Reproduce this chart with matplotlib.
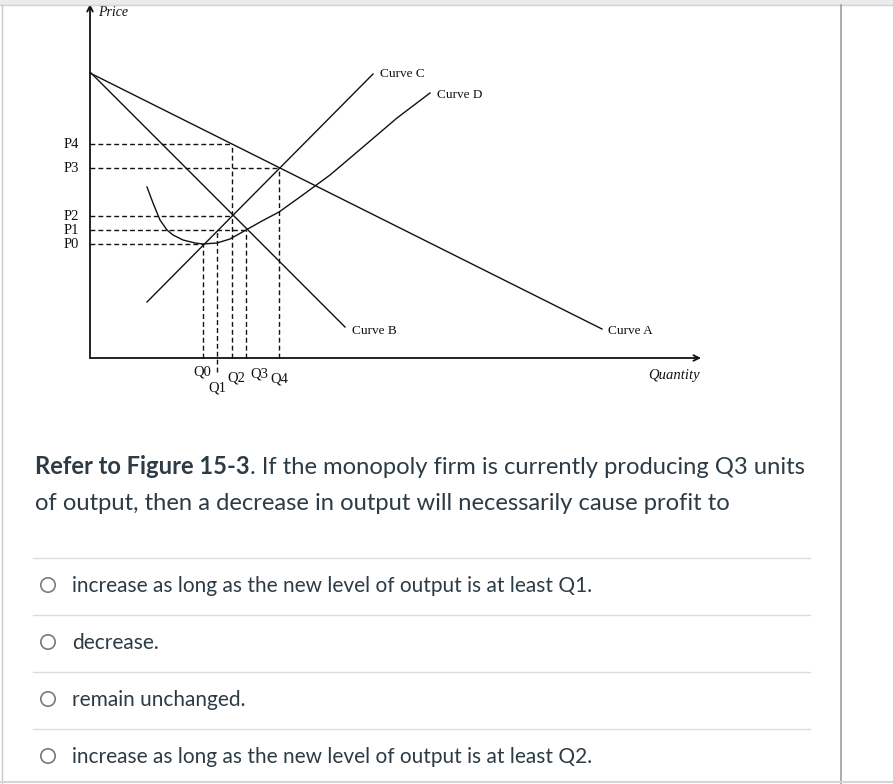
import matplotlib
matplotlib.use("Agg")
import matplotlib.pyplot as plt
from matplotlib.patches import Circle, Rectangle
from matplotlib.lines import Line2D

W, H = 893, 784
# ---------------- data (quantity, price units; origin at chart corner) -------------
demand_q = [0, 512]            # Curve A
demand_p = [285, 29]
mr_q = [0, 255]                # Curve B
mr_p = [286, 31]
mc_q = [57, 283]               # Curve C
mc_p = [56, 284]
atc_q = [57, 63, 70, 77, 83, 93, 105, 113, 127, 140, 156, 172, 189, 210, 240, 273, 307, 340]  # Curve D
atc_p = [171, 155, 138, 128, 123, 118, 115, 114, 115, 119, 128, 137, 146, 161, 183, 211, 240, 265]

price_labels = ["P4", "P3", "P2", "P1", "P0"]
price_levels = [214, 190, 142, 128, 114]
price_ends = [142, 189, 142, 156, 113]     # where each dashed guide stops

qty_labels = ["Q0", "Q1", "Q2", "Q3", "Q4"]
qty_levels = [113, 127, 142, 156, 189]
qty_tops = [114, 128, 214, 128, 190]
qty_label_off = [-14, -30, -20, -16, -21]  # label vertical offset (px below axis)
qty_label_dx = [-1, 0, 4, 13, 0]

curve_labels = ["Curve A", "Curve B", "Curve C", "Curve D"]

question_bold = "Refer to Figure 15-3"
question_rest1 = ". If the monopoly firm is currently producing Q3 units"
question_line2 = "of output, then a decrease in output will necessarily cause profit to"
options = [
    "increase as long as the new level of output is at least Q1.",
    "decrease.",
    "remain unchanged.",
    "increase as long as the new level of output is at least Q2.",
]

fig = plt.figure(figsize=(W / 100, H / 100), dpi=100)
fig.patch.set_facecolor("white")

# ---------------- page frame (figure pixel helpers) ----------------
def fx(px):
    return px / W

def fy(py):
    return 1 - py / H

fig.add_artist(Rectangle((0, fy(5)), 1, 5 / H, transform=fig.transFigure,
                         facecolor="#e9ebed", edgecolor="none"))
fig.add_artist(Line2D([0, 1], [fy(4.5), fy(4.5)], transform=fig.transFigure,
                      color="#cfd4d8", lw=1.0))
fig.add_artist(Line2D([fx(2), fx(2)], [fy(5), fy(784)], transform=fig.transFigure,
                      color="#c8c8c8", lw=1.0))
fig.add_artist(Line2D([fx(841), fx(841)], [fy(5), fy(784)], transform=fig.transFigure,
                      color="#9e9e9e", lw=1.2))
fig.add_artist(Line2D([0, 1], [fy(782), fy(782)], transform=fig.transFigure,
                      color="#d6d6d6", lw=1.5))

# ---------------- economics chart ----------------
ox, oy = 90, 358
ax = fig.add_axes([fx(ox), fy(oy), 610 / W, 353 / H])
ax.set_xlim(0, 610)
ax.set_ylim(0, 353)
ax.axis("off")

ink = "#111111"
serif = "Liberation Serif"

# axes with arrows
ax.annotate("", xy=(611, 0), xytext=(0, 0),
            arrowprops=dict(arrowstyle="->", lw=1.3, color=ink,
                            shrinkA=0, shrinkB=0, mutation_scale=10),
            annotation_clip=False)
ax.annotate("", xy=(0, 354), xytext=(0, 0),
            arrowprops=dict(arrowstyle="->", lw=1.3, color=ink,
                            shrinkA=0, shrinkB=0, mutation_scale=10),
            annotation_clip=False)

dash = dict(color=ink, lw=1.0, dashes=(3.5, 2.2), clip_on=False)
for lvl, end in zip(price_levels, price_ends):
    ax.plot([0, end], [lvl, lvl], **dash)
for q, top in zip(qty_levels, qty_tops):
    bottom = -14 if q == qty_levels[1] else 0
    ax.plot([q, q], [bottom, top], **dash)

lw = 1.0
ax.plot(demand_q, demand_p, color=ink, lw=lw, clip_on=False)
ax.plot(mr_q, mr_p, color=ink, lw=lw, clip_on=False)
ax.plot(mc_q, mc_p, color=ink, lw=lw, clip_on=False)
ax.plot(atc_q, atc_p, color=ink, lw=lw, clip_on=False)

# price labels
for lab, lvl in zip(price_labels, price_levels):
    ax.annotate(lab, xy=(0, lvl), xytext=(-19, 0), textcoords="offset pixels",
                ha="center", va="center", fontsize=10.5, family=serif,
                color=ink, annotation_clip=False)
# quantity labels
for lab, q, off, dx in zip(qty_labels, qty_levels, qty_label_off, qty_label_dx):
    ax.annotate(lab, xy=(q, 0), xytext=(dx, off), textcoords="offset pixels",
                ha="center", va="center", fontsize=10.5, family=serif,
                color=ink, annotation_clip=False)

# curve labels at line ends
clfs = 9.5
ax.annotate(curve_labels[0], xy=(demand_q[-1], demand_p[-1]), xytext=(6, -2),
            textcoords="offset pixels", ha="left", va="center",
            fontsize=clfs, family=serif, color=ink, annotation_clip=False)
ax.annotate(curve_labels[1], xy=(mr_q[-1], mr_p[-1]), xytext=(7, -4),
            textcoords="offset pixels", ha="left", va="center",
            fontsize=clfs, family=serif, color=ink, annotation_clip=False)
ax.annotate(curve_labels[2], xy=(mc_q[-1], mc_p[-1]), xytext=(7, 0),
            textcoords="offset pixels", ha="left", va="center",
            fontsize=clfs, family=serif, color=ink, annotation_clip=False)
ax.annotate(curve_labels[3], xy=(atc_q[-1], atc_p[-1]), xytext=(7, -2),
            textcoords="offset pixels", ha="left", va="center",
            fontsize=clfs, family=serif, color=ink, annotation_clip=False)

# axis titles
ax.annotate("Price", xy=(0, 353), xytext=(8, -8), textcoords="offset pixels",
            ha="left", va="center", fontsize=10, family=serif, style="italic",
            color=ink, annotation_clip=False)
ax.annotate("Quantity", xy=(610, 0), xytext=(0, -17), textcoords="offset pixels",
            ha="right", va="center", fontsize=10.5, family=serif, style="italic",
            color=ink, annotation_clip=False)

# ---------------- question text ----------------
txt = "#2d3b45"
qfs = 17.1
t1 = fig.text(fx(35), fy(467), question_bold, fontsize=qfs, family="Lato",
              weight="bold", color=txt, ha="left", va="center")
fig.canvas.draw()
bb = t1.get_window_extent(renderer=fig.canvas.get_renderer())
fig.text(bb.x1 / W, fy(467), question_rest1, fontsize=qfs, family="Lato",
         color=txt, ha="left", va="center")
fig.text(fx(35), fy(503), question_line2, fontsize=qfs, family="Lato",
         color=txt, ha="left", va="center")

# ---------------- answer options ----------------
sep_y = [558, 615, 672, 729]
for y in sep_y:
    fig.add_artist(Line2D([fx(33), fx(810)], [fy(y), fy(y)], transform=fig.transFigure,
                          color="#dcdcdc", lw=1.0))
for i, opt in enumerate(options):
    yc = sep_y[i] + 27
    fig.add_artist(Circle((48, H - yc), 7.2, transform=None, facecolor="white",
                          edgecolor="#7a7a7a", lw=1.2))
    fig.text(fx(72), fy(yc + 1), opt, fontsize=15, family="Lato", color=txt,
             ha="left", va="center")

fig.savefig("out.png", dpi=100, facecolor="white")
